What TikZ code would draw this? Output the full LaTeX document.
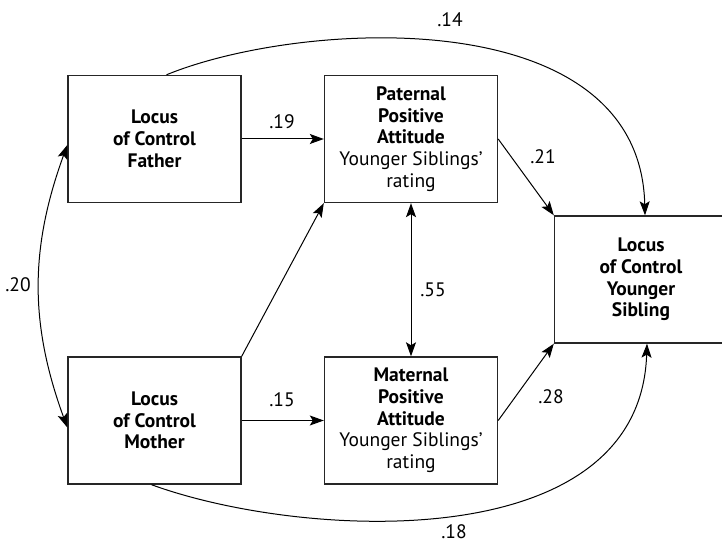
\documentclass[tikz,border=0pt]{standalone}
\usepackage{fontspec}
\setmainfont{PT Sans}
\usetikzlibrary{arrows.meta}

\begin{document}
\begin{tikzpicture}[x=1pt,y=1pt,
	every node/.style={font=\fontsize{19.5}{21.7}\selectfont},
	box/.style={draw=black!85, line width=1.4pt, minimum width=173pt, minimum height=127pt, inner sep=0pt, align=center},
	every path/.style={line width=1pt},
	>={Stealth[length=14pt,width=10pt,inset=3pt]}]
	\useasboundingbox (0,0) rectangle (722,543);
	\node[box] (father) at (154.5,404){\textbf{Locus}\\\textbf{of Control}\\\textbf{Father}};
	\node[box] (paternal) at (411,404){\textbf{Paternal}\\\textbf{Positive}\\\textbf{Attitude}\\Younger Siblings’\\rating};
	\node[box] (mother) at (154.5,122.5){\textbf{Locus}\\\textbf{of Control}\\\textbf{Mother}};
	\node[box] (maternal) at (411,122.5){\textbf{Maternal}\\\textbf{Positive}\\\textbf{Attitude}\\Younger Siblings’\\rating};
	\node[box] (younger) at (641,263.5){\textbf{Locus}\\\textbf{of Control}\\\textbf{Younger}\\\textbf{Sibling}};
	\draw[->] (father) -- (paternal);
	\draw[->] (mother) -- (maternal);
	\draw[->] (mother.north east) -- (paternal.south west);
	\draw[->] (paternal.east) -- (younger.north west);
	\draw[->] (maternal.east) -- (younger.south west);
	\draw[<->] (paternal) -- (maternal);
	\draw[<->] ([yshift=-6pt]father.west) to[out=250,in=110] ([yshift=-7pt]mother.west);
	\draw[->] ([xshift=12pt]father.north) .. controls (300,523) and (640,543) .. ([xshift=4pt]younger.north);
	\draw[->] ([xshift=-3pt]mother.south) .. controls (300,4) and (640,-16) .. ([xshift=6pt]younger.south);
	% path coefficients
	\node (c14) at (450,523){.14};
	\node (c19) at (282,421){.19};
	\node (c21) at (543,386){.21};
	\node (c20) at (18,258){.20};
	\node (c55) at (433,253){.55};
	\node (c15) at (282,143){.15};
	\node (c28) at (551,146){.28};
	\node (c18) at (454,11){.18};
\end{tikzpicture}
\end{document}
